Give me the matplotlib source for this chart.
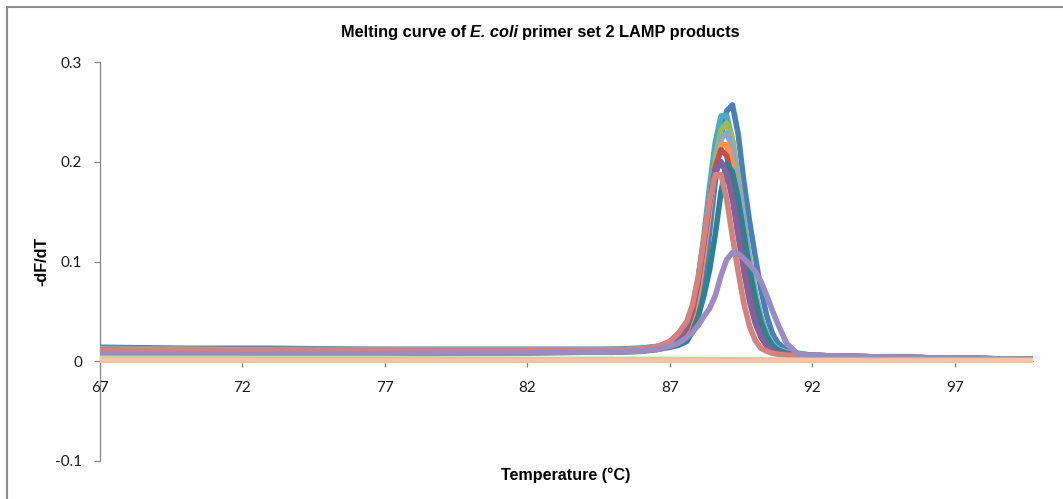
"""
Melting curve (-dF/dT vs temperature) of E. coli primer set 2 LAMP products,
redrawn from the exported Excel chart.
"""

import matplotlib
matplotlib.use("Agg")
import matplotlib.pyplot as plt
from matplotlib.lines import Line2D

# read-off temperatures (deg C), denser through the melt peak
temp = [67, 70, 73, 76, 79, 82, 84, 85,
        86, 86.6, 87.0, 87.3, 87.6, 87.8,
        88.0, 88.2, 88.4, 88.6, 88.8,
        89.0, 89.2, 89.4, 89.6, 89.8,
        90.0, 90.2, 90.4, 90.6, 90.8,
        91.1, 91.5, 92, 93, 95, 97, 99.7]

# -dF/dT of each positive sample, same points as temp
blue = [.014, .013, .013, .012, .012, .012, .012, .012,
        .013, .015, .017, .020, .024, .031,
        .052, .084, .130, .181, .225,
        .251, .257, .228, .180, .140,
        .105, .072, .046, .028, .018,
        .011, .008, .006, .005, .004, .003, .002]
cyan = [.013, .012, .012, .012, .011, .011, .011, .012,
        .013, .015, .018, .023, .034, .053,
        .082, .126, .176, .220, .246,
        .246, .222, .182, .138, .098,
        .066, .042, .026, .017, .012,
        .009, .007, .006, .005, .004, .003, .002]
green = [.012, .012, .011, .011, .011, .011, .011, .011,
         .012, .014, .018, .021, .028, .043,
         .070, .110, .157, .202, .232,
         .239, .222, .186, .144, .104,
         .070, .045, .028, .018, .012,
         .009, .007, .006, .005, .004, .003, .002]
lightblue = [.012, .011, .011, .011, .011, .011, .011, .011,
             .012, .014, .017, .020, .027, .041,
             .068, .106, .151, .194, .223,
             .229, .213, .179, .139, .100,
             .068, .044, .027, .017, .012,
             .009, .007, .006, .005, .004, .003, .002]
orange = [.011, .011, .011, .010, .010, .010, .010, .010,
          .011, .013, .017, .021, .030, .046,
          .073, .111, .155, .194, .217,
          .217, .196, .160, .120, .084,
          .055, .035, .022, .014, .010,
          .008, .007, .006, .005, .004, .003, .002]
red = [.011, .010, .010, .010, .010, .010, .010, .010,
       .011, .013, .018, .021, .033, .050,
       .079, .118, .160, .195, .212,
       .206, .181, .145, .106, .072,
       .046, .029, .018, .012, .009,
       .007, .006, .005, .005, .004, .003, .002]
teal = [.010, .010, .010, .010, .010, .010, .010, .010,
        .011, .012, .014, .016, .020, .030,
        .045, .066, .092, .128, .170,
        .198, .190, .163, .128, .093,
        .063, .040, .025, .016, .011,
        .008, .007, .006, .005, .004, .003, .002]
purple = [.010, .009, .009, .009, .009, .009, .009, .009,
          .010, .012, .018, .023, .035, .054,
          .083, .121, .160, .189, .200,
          .188, .162, .126, .090, .060,
          .038, .024, .015, .010, .008,
          .007, .006, .005, .005, .004, .003, .002]
salmon = [.011, .011, .011, .011, .011, .011, .011, .011,
          .012, .015, .020, .028, .040, .057,
          .085, .123, .162, .187, .187,
          .162, .125, .090, .058, .035,
          .021, .013, .010, .008, .007,
          .006, .006, .005, .005, .004, .003, .002]
broad = [.007, .007, .007, .007, .008, .008, .009, .009,
         .010, .012, .015, .018, .024, .029,
         .036, .045, .053, .066, .086,
         .102, .109, .108, .103, .097,
         .090, .080, .066, .051, .037,
         .018, .007, .006, .005, .004, .003, .002]

# negative controls stay flat near zero
ctrl_temp = [67, 72, 77, 82, 87, 92, 97, 99.7]
ctrl_aqua = [.003, .003, .002, .002, .002, .001, .001, .001]
ctrl_green = [.003, .003, .003, .002, .002, .001, .001, .001]
ctrl_peach = [.001, .001, .001, .001, .001, .001, .001, .001]

x_ticks = [67, 72, 77, 82, 87, 92, 97]
y_ticks = [-0.1, 0, 0.1, 0.2, 0.3]
y_tick_labels = ["-0.1", "0", "0.1", "0.2", "0.3"]

W, H = 1063, 499
GRAY = "#868686"


def fig_xy(px, py):
    """pixel position (from top-left) -> figure fraction"""
    return px / W, 1 - py / H


def mixed_title(fig, cx, base_y, parts, gap=4, **kw):
    """place text pieces side by side on one baseline, centred on cx"""
    renderer = fig.canvas.get_renderer()
    texts = [fig.text(0, 0, s, style=st, va="baseline", **kw)
             for s, st in parts]
    widths = [t.get_window_extent(renderer).width for t in texts]
    x = cx - (sum(widths) + gap * (len(parts) - 1)) / 2
    for t, w in zip(texts, widths):
        t.set_position(fig_xy(x, base_y))
        x += w + gap


def main():
    fig = plt.figure(figsize=(W / 100, H / 100), dpi=100)
    ax = fig.add_axes([100 / W, (H - 461) / H, 933 / W, 399 / H])

    series = [
        (blue, "#4A7EBB"), (cyan, "#4BACC6"), (green, "#9BBB59"),
        (lightblue, "#8DA6D0"), (orange, "#F79646"), (red, "#C0504D"),
        (teal, "#2F8090"), (purple, "#7F62A1"), (salmon, "#D5817F"),
        (broad, "#9B8BC0"),
    ]
    for ys, c in series:
        ax.plot(temp, ys, color=c, lw=4.0, solid_joinstyle="round")
    ax.plot(ctrl_temp, ctrl_aqua, color="#A5D5E3", lw=3.6)
    ax.plot(ctrl_temp, ctrl_green, color="#C3D69B", lw=3.6)
    ax.plot(ctrl_temp, ctrl_peach, color="#F9C3A5", lw=3.8)

    ax.set_xlim(67, 99.75)
    ax.set_ylim(-0.1, 0.3)
    ax.set_xticks(x_ticks)
    ax.set_xticklabels([str(t) for t in x_ticks])
    ax.set_yticks(y_ticks)
    ax.set_yticklabels(y_tick_labels)

    for side in ("top", "right"):
        ax.spines[side].set_visible(False)
    ax.spines["bottom"].set_position(("data", 0))
    for side in ("left", "bottom"):
        ax.spines[side].set_color(GRAY)
        ax.spines[side].set_linewidth(0.9)
        ax.spines[side].set_zorder(0.5)
    ax.tick_params(axis="both", direction="out", color=GRAY, width=0.9,
                   length=4, labelsize=11, labelcolor="#1a1a1a")
    ax.tick_params(axis="x", pad=10)
    ax.tick_params(axis="y", pad=9)
    for lab in ax.get_xticklabels() + ax.get_yticklabels():
        lab.set_fontfamily("Lato")

    fig.text(*fig_xy(566, 475), "Temperature (\u00b0C)", ha="center",
             va="center", fontsize=11.6, fontweight="bold",
             family="Liberation Sans")
    fig.text(*fig_xy(42, 261), "-dF/dT", ha="center", va="center",
             rotation=90, fontsize=11.6, fontweight="bold",
             family="Liberation Sans")
    mixed_title(fig, 540, 37,
                [("Melting curve of", "normal"), ("E. coli", "italic"),
                 ("primer set 2 LAMP products", "normal")],
                fontsize=11.8, fontweight="bold", family="Liberation Sans")

    # outer chart frame (only top and left edges fall inside the crop)
    fig.add_artist(Line2D([7 / W, 7 / W], [0, 1 - 7 / H],
                          transform=fig.transFigure, color="#8c8c8c", lw=1.5))
    fig.add_artist(Line2D([7 / W, 1], [1 - 7 / H, 1 - 7 / H],
                          transform=fig.transFigure, color="#8c8c8c", lw=1.5))

    fig.savefig("out.png", dpi=100)
    plt.close(fig)


if __name__ == "__main__":
    main()
